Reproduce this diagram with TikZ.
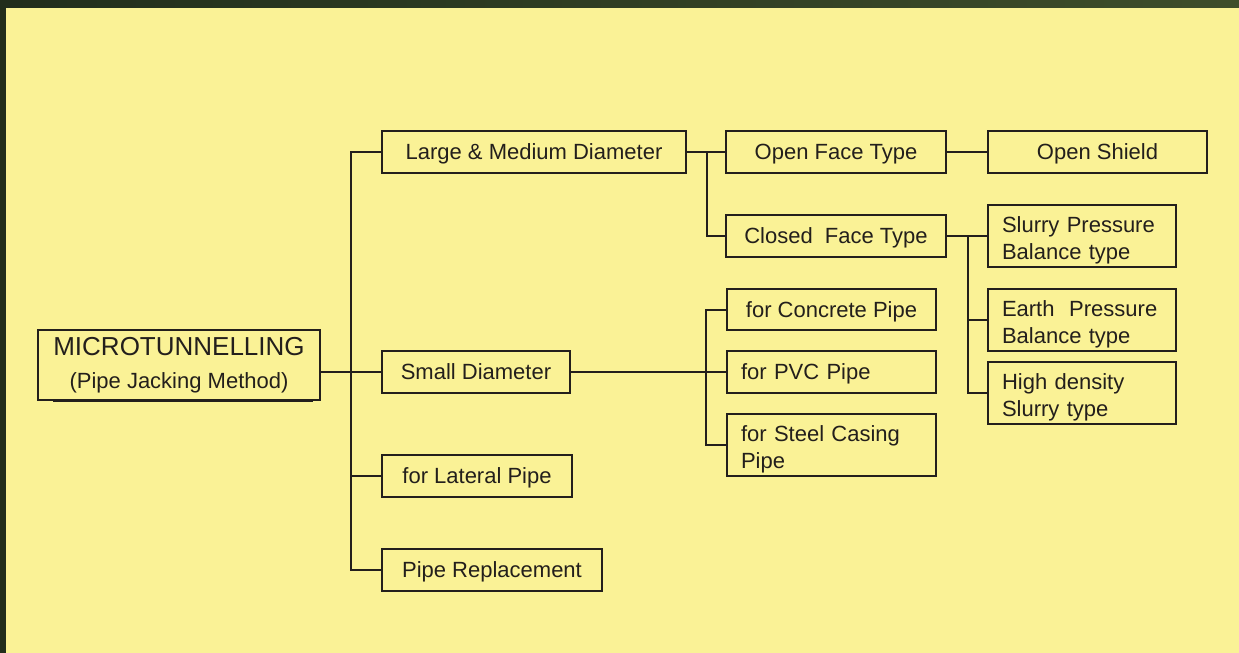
\documentclass[tikz,border=0pt]{standalone}
\usepackage{fontspec}
\setmainfont{Liberation Sans}

\definecolor{bgyellow}{RGB}{250,242,150}
\definecolor{frameL}{RGB}{34,46,28}
\definecolor{frameR}{RGB}{62,78,42}
\definecolor{ink}{RGB}{35,31,28}

\tikzset{
  plain/.style={draw=ink, line width=1pt, fill=bgyellow, text=ink, inner sep=0pt,
    font=\fontsize{11}{13.5}\selectfont},
  box/.style={plain, minimum height=21pt, text depth=0pt},
  leftbox/.style={box, align=left, inner xsep=7pt, text width=#1},
  twobox/.style={plain, minimum height=31pt, align=left, inner xsep=7pt,
    text width=#1, text height=12pt},
  link/.style={draw=ink, line width=1pt}
}

\begin{document}
\begin{tikzpicture}[x=0.5pt, y=-0.5pt]
  \useasboundingbox (0,0) rectangle (1239,653);
  \fill[bgyellow] (0,0) rectangle (1239,653);
  \shade[left color=frameL, right color=frameR] (0,0) rectangle (1239,7);
  \fill[frameL] (0,0) rectangle (6,653);

  % root
  \node[plain, minimum width=141pt, minimum height=35pt, align=center] (root) at (179,365)
    {{\fontsize{13}{17.5}\selectfont MICROTUNNELLING}\\[3pt](Pipe Jacking Method)};
  \draw[ink, line width=1.5pt] ([xshift=8pt,yshift=0.5pt]root.south west) -- ([xshift=-4pt,yshift=0.5pt]root.south east);

  % first level
  \node[box, minimum width=152pt] (large) at (534,152) {Large \& Medium Diameter};
  \node[box, minimum width=94pt] (small) at (476,372) {Small Diameter};
  \node[box, minimum width=95pt] (lateral) at (477,476) {for Lateral Pipe};
  \node[box, minimum width=110pt] (replace) at (492,570) {Pipe Replacement};

  % face types
  \node[box, minimum width=110pt] (open) at (836,152) {Open Face Type};
  \node[box, minimum width=110pt] (closed) at (836,236) {Closed\ \ Face Type};
  \node[box, minimum width=109.5pt] (shield) at (1097.5,152) {Open Shield};

  \node[twobox=80pt] (slurry) at (1082,236) {Slurry Pressure\\Balance type};
  \node[twobox=80pt] (earth) at (1082,320) {Earth\ \ Pressure\\Balance type};
  \node[twobox=80pt] (hdens) at (1082,393) {High density\\Slurry type};

  % pipe kinds
  \node[box, minimum width=104.5pt, minimum height=20.5pt] (concrete) at (831.5,309.5) {for Concrete Pipe};
  \node[leftbox=90.5pt] (pvc) at (831.5,372) {for PVC Pipe};
  \node[twobox=90.5pt] (steel) at (831.5,445) {for Steel Casing\\Pipe};

  % connectors
  \coordinate (trunk) at (351,372);
  \draw[link] (root.east |- small.west) -- (small.west);
  \draw[link] (large.west) -| (trunk) |- (replace.west);
  \draw[link] (trunk |- lateral.west) -- (lateral.west);

  \draw[link] (large.east) -- (open.west);
  \draw[link] (large.east) -- ++(20,0) |- (closed.west);
  \draw[link] (open.east) -- (shield.west);

  \draw[link] (closed.east) -- (slurry.west);
  \draw[link] (closed.east) ++(21,0) coordinate (cfj) |- (hdens.west);
  \draw[link] (cfj |- earth.west) -- (earth.west);

  \draw[link] (small.east) -- (pvc.west);
  \coordinate (sdj) at (706,372);
  \draw[link] (concrete.west) -| (sdj) |- (steel.west);
\end{tikzpicture}
\end{document}
